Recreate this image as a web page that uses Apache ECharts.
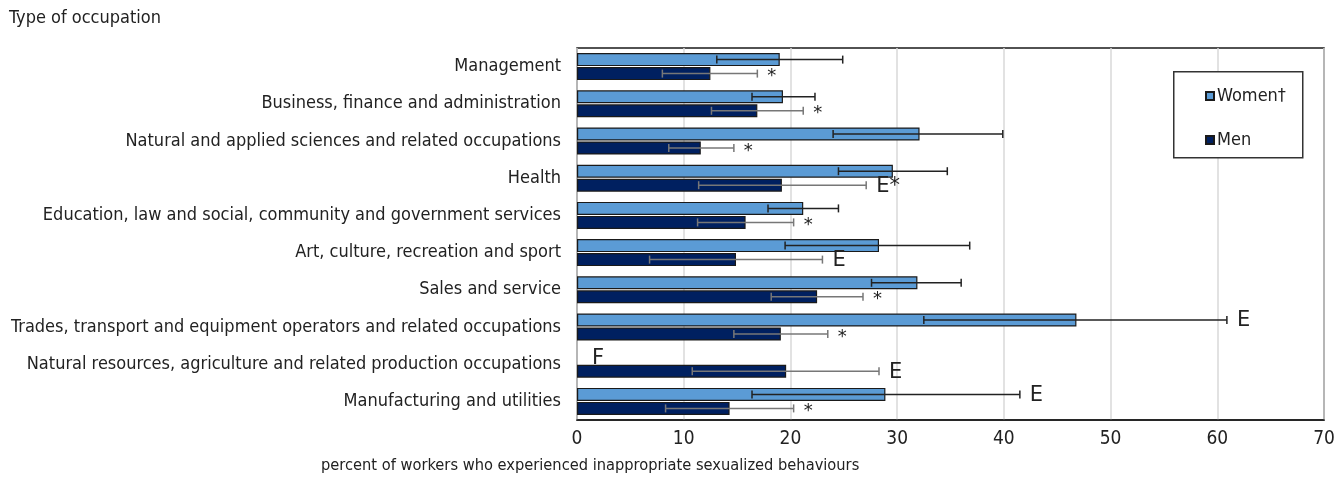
<!DOCTYPE html>
<html>
<head>
<meta charset="utf-8">
<title>Inappropriate sexualized behaviours by type of occupation</title>
<script src="https://cdn.jsdelivr.net/npm/echarts@6/dist/echarts.min.js"></script>
<style>
  html, body { margin: 0; padding: 0; background: #fff; }
  #chart { width: 1341px; height: 482px; }
</style>
</head>
<body>
<div id="chart"></div>
<script>
// Occupation groups, top to bottom
const categories = [
  'Management',
  'Business, finance and administration',
  'Natural and applied sciences and related occupations',
  'Health',
  'Education, law and social, community and government services',
  'Art, culture, recreation and sport',
  'Sales and service',
  'Trades, transport and equipment operators and related occupations',
  'Natural resources, agriculture and related production occupations',
  'Manufacturing and utilities'
];

// Percent of workers (null = estimate too unreliable to publish)
const women      = [19.0, 19.3, 32.1, 29.6, 21.2, 28.3, 31.9, 46.8, null, 28.9];
const womenLow   = [13.1, 16.4, 24.0, 24.5, 17.9, 19.5, 27.6, 32.5, null, 16.4];
const womenHigh  = [24.9, 22.3, 39.9, 34.7, 24.5, 36.8, 36.0, 60.9, null, 41.5];
const womenNotes = ['', '', '', '', '', '', '', 'E', 'F', 'E'];

const men      = [12.5, 16.9, 11.6, 19.2, 15.8, 14.9, 22.5, 19.1, 19.6, 14.3];
const menLow   = [8.0, 12.6, 8.6, 11.4, 11.3, 6.8, 18.2, 14.7, 10.8, 8.3];
const menHigh  = [16.9, 21.2, 14.7, 27.1, 20.3, 23.0, 26.8, 23.5, 28.3, 20.3];
const menNotes = ['*', '*', '*', 'E*', '*', 'E', '*', '*', 'E', '*'];

const xTicks = [0, 10, 20, 30, 40, 50, 60, 70];

const FONT = "'Liberation Sans Narrow', 'DejaVu Sans Condensed', 'Arial Narrow', sans-serif";
const BAR_W = 13;
const PAIR_STEP = 14; // distance between the two bars of a group

function errorRows(lo, hi) {
  return categories.map((c, i) => [i, lo[i], hi[i]]);
}

// Whiskers plus footnote flags, shifted onto the matching bar of the group
function whiskerRenderer(shift, color, notes) {
  return function (params, api) {
    const idx = api.value(0);
    const lo = api.value(1);
    const hi = api.value(2);
    const note = notes[params.dataIndex];
    const children = [];
    const mid = api.coord([0, idx]);
    const y = mid[1] + shift;
    let noteX = mid[0] + 5;
    if (lo != null && !isNaN(lo) && hi != null && !isNaN(hi)) {
      const p0 = api.coord([lo, idx]);
      const p1 = api.coord([hi, idx]);
      const st = { stroke: color, lineWidth: 1.5 };
      children.push({ type: 'line', shape: { x1: p0[0], y1: y, x2: p1[0], y2: y }, style: st });
      children.push({ type: 'line', shape: { x1: p0[0], y1: y - 4, x2: p0[0], y2: y + 4 }, style: st });
      children.push({ type: 'line', shape: { x1: p1[0], y1: y - 4, x2: p1[0], y2: y + 4 }, style: st });
      noteX = p1[0];
    }
    if (note) {
      const star = note === '*';
      children.push({
        type: 'text',
        style: {
          text: note,
          x: noteX + 10,
          y: y + (star ? 3 : 1),
          fill: '#222',
          font: (star ? '18px' : '21px') + " 'DejaVu Sans', sans-serif",
          verticalAlign: 'middle',
          align: 'left'
        }
      });
    }
    return { type: 'group', children: children };
  };
}

const chart = echarts.init(document.getElementById('chart'), null, { renderer: 'canvas' });

chart.setOption({
  animation: false,
  backgroundColor: '#fff',
  textStyle: { fontFamily: FONT },
  grid: {
    left: 577, right: 17, top: 48, bottom: 62,
    show: true, borderColor: '#1a1a1a', borderWidth: 1.5, backgroundColor: '#fff'
  },
  legend: {
    data: ['Women†', 'Men'],
    orient: 'vertical',
    left: 1200, top: 82, z: 6,
    icon: 'rect', itemWidth: 8, itemHeight: 8, itemGap: 26,
    textStyle: { fontFamily: FONT, fontSize: 18, color: '#222', padding: [0, 0, 0, -2] },
    selectedMode: false
  },
  graphic: [
    {
      type: 'rect', left: 1173, top: 71, z: 5,
      shape: { width: 129, height: 86 },
      style: { fill: '#fff', stroke: '#333', lineWidth: 1.5 }
    },
    {
      type: 'text', left: 9, top: 9,
      style: { text: 'Type of occupation', font: "18px " + FONT, fill: '#222' }
    },
    {
      type: 'text', left: 321, top: 458,
      style: { text: 'percent of workers who experienced inappropriate sexualized behaviours', font: "16.3px " + FONT, fill: '#222' }
    }
  ],
  xAxis: {
    type: 'value', min: xTicks[0], max: xTicks[xTicks.length - 1], interval: 10,
    axisLine: { show: true, lineStyle: { color: '#1a1a1a', width: 1.5 } },
    axisTick: { show: false },
    axisLabel: { fontSize: 19, color: '#222', margin: 10, fontFamily: FONT },
    splitLine: { show: true, lineStyle: { color: '#d9d9d9', width: 1.5 } }
  },
  yAxis: {
    type: 'category', data: categories, inverse: true,
    axisLine: { show: false }, axisTick: { show: false },
    axisLabel: { fontSize: 18, color: '#222', margin: 16, fontFamily: FONT }
  },
  series: [
    {
      name: 'Women†', type: 'bar', data: women,
      barWidth: BAR_W, barGap: '8%',
      itemStyle: { color: '#5b9bd5', borderColor: '#1a1a1a', borderWidth: 1.2 }
    },
    {
      name: 'Men', type: 'bar', data: men,
      barWidth: BAR_W, barGap: '8%',
      itemStyle: { color: '#002060', borderColor: '#1a1a1a', borderWidth: 1.2 }
    },
    {
      type: 'custom', name: 'womenCI', z: 10,
      data: errorRows(womenLow, womenHigh),
      encode: { y: 0, x: [1, 2] },
      renderItem: whiskerRenderer(-PAIR_STEP / 2, '#222', womenNotes)
    },
    {
      type: 'custom', name: 'menCI', z: 10,
      data: errorRows(menLow, menHigh),
      encode: { y: 0, x: [1, 2] },
      renderItem: whiskerRenderer(PAIR_STEP / 2, '#777', menNotes)
    }
  ]
});
</script>
</body>
</html>
